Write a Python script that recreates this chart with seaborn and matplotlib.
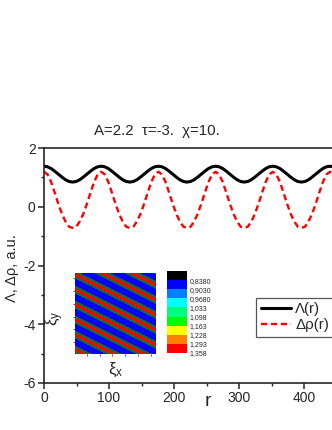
import numpy as np
import pandas as pd
import seaborn as sns
import matplotlib
matplotlib.use('Agg')
import matplotlib.pyplot as plt
from matplotlib.colors import ListedColormap

# main curves (r step 5.5)
r = [0.0, 5.5, 11.0, 16.5, 22.0, 27.5, 33.0, 38.5, 44.0, 49.5, 55.0, 60.5, 66.0, 71.5, 77.0, 82.5,
     88.0, 93.5, 99.0, 104.5, 110.0, 115.5, 121.0, 126.5, 132.0, 137.5, 143.0, 148.5, 154.0, 159.5, 165.0, 170.5,
     176.0, 181.5, 187.0, 192.5, 198.0, 203.5, 209.0, 214.5, 220.0, 225.5, 231.0, 236.5, 242.0, 247.5, 253.0, 258.5,
     264.0, 269.5, 275.0, 280.5, 286.0, 291.5, 297.0, 302.5, 308.0, 313.5, 319.0, 324.5, 330.0, 335.5, 341.0, 346.5,
     352.0, 357.5, 363.0, 368.5, 374.0, 379.5, 385.0, 390.5, 396.0, 401.5, 407.0, 412.5, 418.0, 423.5, 429.0, 434.5,
     440.0, 445.5]
lam = [1.38, 1.36, 1.30, 1.21, 1.11, 1.01, 0.92, 0.86, 0.84, 0.86, 0.92, 1.01, 1.11, 1.21, 1.30, 1.36,
       1.38, 1.36, 1.30, 1.21, 1.11, 1.01, 0.92, 0.86, 0.84, 0.86, 0.92, 1.01, 1.11, 1.21, 1.30, 1.36,
       1.38, 1.36, 1.30, 1.21, 1.11, 1.01, 0.92, 0.86, 0.84, 0.86, 0.92, 1.01, 1.11, 1.21, 1.30, 1.36,
       1.38, 1.36, 1.30, 1.21, 1.11, 1.01, 0.92, 0.86, 0.84, 0.86, 0.92, 1.01, 1.11, 1.21, 1.30, 1.36,
       1.38, 1.36, 1.30, 1.21, 1.11, 1.01, 0.92, 0.86, 0.84, 0.86, 0.92, 1.01, 1.11, 1.21, 1.30, 1.36,
       1.38, 1.36]
drho = [1.19, 1.10, 0.84, 0.48, 0.10, -0.24, -0.50, -0.68, -0.72, -0.68, -0.50, -0.24, 0.10, 0.48, 0.84, 1.10,
        1.19, 1.10, 0.84, 0.48, 0.10, -0.24, -0.50, -0.68, -0.72, -0.68, -0.50, -0.24, 0.10, 0.48, 0.84, 1.10,
        1.19, 1.10, 0.84, 0.48, 0.10, -0.24, -0.50, -0.68, -0.72, -0.68, -0.50, -0.24, 0.10, 0.48, 0.84, 1.10,
        1.19, 1.10, 0.84, 0.48, 0.10, -0.24, -0.50, -0.68, -0.72, -0.68, -0.50, -0.24, 0.10, 0.48, 0.84, 1.10,
        1.19, 1.10, 0.84, 0.48, 0.10, -0.24, -0.50, -0.68, -0.72, -0.68, -0.50, -0.24, 0.10, 0.48, 0.84, 1.10,
        1.19, 1.10]

# inset: one period of the stripe bands (0=blue, 1=dark green, 2=red), half-pixel steps
stripe_band = [2, 2, 2, 2, 2, 2, 1, 1, 1, 1, 1, 0, 0, 0, 0, 0, 0, 0, 0, 0, 0, 0, 0, 0, 0, 1, 1, 1, 1, 1]
stripe_colors = ['#0000ff', '#1f6a26', '#ff0000']

# colour scale of the inset
cbar_colors = ['#000000', '#0000ff', '#0080ff', '#00ffff', '#00ff80',
               '#00ff00', '#ffff00', '#ff8000', '#ff0000']
cbar_labels = ['0,8380', '0,9030', '0,9680', '1,033', '1,098',
               '1,163', '1,228', '1,293', '1,358']

sns.set_style('ticks')
plt.rcParams['font.family'] = ['Liberation Sans', 'DejaVu Sans']
plt.rcParams['mathtext.fontset'] = 'custom'
plt.rcParams['mathtext.rm'] = 'Liberation Sans'
plt.rcParams['mathtext.it'] = 'Liberation Sans'
plt.rcParams['axes.unicode_minus'] = False

W, H = 332, 430
fig = plt.figure(figsize=(W / 100, H / 100), dpi=100)

def fbox(x0, y0, x1, y1):
    return [x0 / W, (H - y1) / H, (x1 - x0) / W, (y1 - y0) / H]

ax = fig.add_axes(fbox(44, 148, 44 + 325, 383))
df = pd.DataFrame({'r': r, 'lam': lam, 'drho': drho})
sns.lineplot(data=df, x='r', y='lam', ax=ax, color='black', lw=2.2, label='Λ(r)')
sns.lineplot(data=df, x='r', y='drho', ax=ax, color='#ff0000', lw=1.7, label='Δρ(r)',
             dashes=False, linestyle=(0, (2.6, 1.6)))
ax.set_xlim(0, 500)
ax.set_ylim(-6, 2)
ax.set_xticks([0, 100, 200, 300, 400])
ax.set_xticks([50, 150, 250, 350, 450], minor=True)
ax.set_yticks([2, 0, -2, -4, -6])
ax.set_yticks([1, -1, -3, -5], minor=True)
ax.tick_params(which='major', length=4, width=1.1, labelsize=10, direction='out', pad=2)
ax.tick_params(which='minor', length=2.5, width=1.0, direction='out')
for s in ax.spines.values():
    s.set_linewidth(1.2)
ax.set_xlabel('')
ax.set_ylabel('')

ax.legend(loc='upper left', bbox_to_anchor=(256 / W, (H - 298) / H), bbox_transform=fig.transFigure,
          borderaxespad=0, fontsize=10.8, frameon=True, fancybox=False, framealpha=1,
          edgecolor='#555555', handlelength=2.0, handletextpad=0.3, borderpad=0.3,
          labelspacing=0.1).get_frame().set_linewidth(0.9)

fig.text(157 / W, (H - 131) / H, 'A=2.2  τ=-3.  χ=10.', ha='center', va='center', fontsize=10.8)
fig.text(208 / W, (H - 401) / H, 'r', ha='center', va='center', fontsize=14)
fig.text(12 / W, (H - 268) / H, 'Λ, Δρ, a.u.', ha='center', va='center', rotation=90, fontsize=10.5)

# inset stripes
N = 162
grid = np.array([[stripe_band[(i - j // 2) % len(stripe_band)] for j in range(N)] for i in range(N)])
axi = fig.add_axes(fbox(75, 273, 156, 354))
sns.heatmap(grid, ax=axi, cmap=ListedColormap(stripe_colors), cbar=False, vmin=-0.5, vmax=2.5,
            xticklabels=False, yticklabels=False)
tpos = [12 / 81 * N, 25 / 81 * N, 37 / 81 * N, 50 / 81 * N, 63 / 81 * N, 76 / 81 * N]
axi.set_xticks(tpos)
axi.set_yticks([N - t for t in tpos])
axi.set_xticklabels([])
axi.set_yticklabels([])
axi.tick_params(length=1.5, width=0.6, color='#333333')
fig.text(55 / W, (H - 318) / H, r'$\mathregular{\xi_y}$', ha='center', va='center', rotation=90, fontsize=12)
fig.text(116 / W, (H - 370) / H, r'$\mathregular{\xi_x}$', ha='center', va='center', fontsize=12)

# colour scale
axc = fig.add_axes(fbox(167, 271, 186.5, 353))
sns.heatmap(np.arange(len(cbar_colors)).reshape(-1, 1), ax=axc, cmap=ListedColormap(cbar_colors),
            cbar=False, xticklabels=False, yticklabels=False)
axc.yaxis.tick_right()
axc.set_yticks(np.arange(1, len(cbar_labels) + 1))
axc.set_yticklabels(cbar_labels, fontsize=5, rotation=0)
axc.tick_params(length=0, pad=2)

fig.savefig('out.png', dpi=100)
